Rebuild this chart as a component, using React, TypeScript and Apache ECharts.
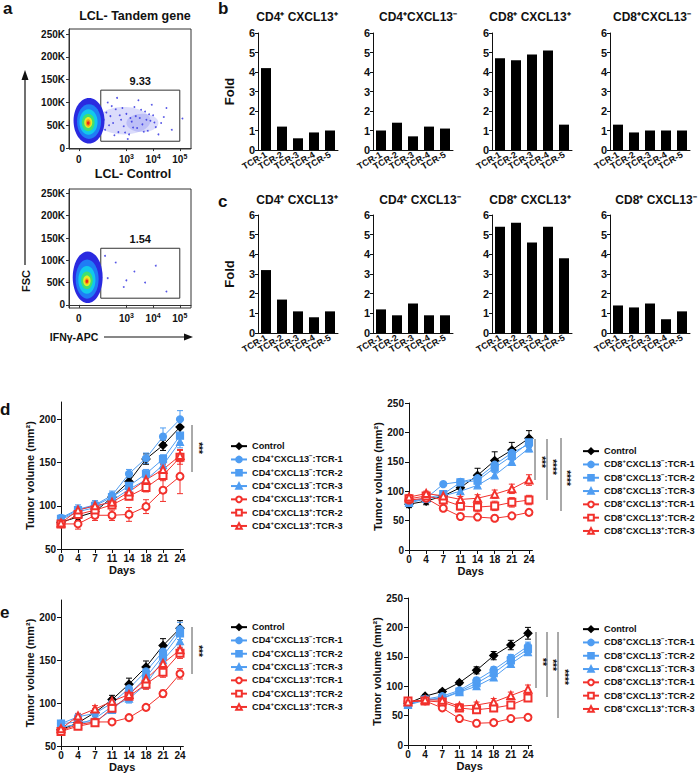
import React, { useEffect, useRef } from 'react';
import * as echarts from 'echarts';

const FONT = 'Arial, "Liberation Sans", Helvetica, sans-serif';

// ---------- panel a : flow cytometry ----------
const flowTitles = ['LCL- Tandem gene', 'LCL- Control'];
const flowYTicks = [0, 50, 100, 150, 200, 250];
const flowYTickLabels = ['0', '50K', '100K', '150K', '200K', '250K'];
const flowXTicks = [1.22, 3, 4, 5];
const flowXTickLabels = ['0', '10{s|3}', '10{s|4}', '10{s|5}'];
const gatePercent = ['9.33', '1.54'];
const gateX = [2.04, 5.0];
const gateY = [15, 127];
// [x(decade), FSC(K), x-radius, y-radius, density level]
const tandemCloud = [
  [2.9, 60, 1.0, 30, 0],
  [3.6, 55, 0.6, 20, 0],
  [1.6, 60, 0.58, 50, 1],
  [1.6, 58, 0.45, 38, 2],
  [1.58, 57, 0.34, 28, 3],
  [1.57, 56, 0.24, 19, 4],
  [1.57, 56, 0.15, 12, 5],
  [1.57, 55, 0.09, 8, 6],
  [1.57, 55, 0.05, 4, 7],
];
const controlCloud = [
  [1.55, 62, 0.56, 58, 1],
  [1.53, 58, 0.43, 44, 2],
  [1.52, 56, 0.32, 31, 3],
  [1.52, 55, 0.22, 20, 4],
  [1.52, 54, 0.14, 12, 5],
  [1.52, 53, 0.08, 7, 6],
  [1.52, 53, 0.045, 4, 7],
];
const tandemDots = [
  [2.2, 40], [2.4, 70], [2.5, 55], [2.6, 85], [2.7, 35], [2.8, 62], [2.9, 48], [3.0, 75],
  [3.1, 30], [3.2, 58], [3.3, 90], [3.4, 44], [3.5, 66], [3.6, 52], [3.7, 80], [3.8, 38],
  [3.9, 60], [4.0, 72], [4.1, 46], [4.3, 55], [4.5, 88], [4.7, 40], [5.1, 65], [2.3, 100],
  [2.65, 110], [3.05, 20], [3.45, 105], [4.2, 30], [4.4, 68], [3.95, 95],
  [2.15, 62], [2.25, 78], [2.35, 50], [2.45, 92], [2.55, 28], [2.75, 72], [2.85, 88], [2.95, 34],
  [3.15, 66], [3.25, 45], [3.35, 70], [3.55, 84], [3.65, 36], [3.75, 62], [3.85, 74], [4.05, 56],
];
const controlDots = [
  [2.3, 60], [2.6, 95], [2.9, 40], [3.3, 75], [3.7, 50], [4.1, 88], [4.5, 30], [2.2, 110], [3.0, 55],
];

// ---------- panels b, c : fold bars ----------
const tcrCats = ['TCR-1', 'TCR-2', 'TCR-3', 'TCR-4', 'TCR-5'];
const bTitles = ['CD4⁺ CXCL13⁺', 'CD4⁺CXCL13⁻', 'CD8⁺ CXCL13⁺', 'CD8⁺CXCL13⁻'];
const cTitles = ['CD4⁺ CXCL13⁺', 'CD4⁺ CXCL13⁻', 'CD8⁺ CXCL13⁺', 'CD8⁺ CXCL13⁻'];
const b_cd4pos = [4.2, 1.2, 0.6, 0.9, 1.0];
const b_cd4neg = [1.0, 1.4, 0.7, 1.2, 1.1];
const b_cd8pos = [4.7, 4.6, 4.9, 5.1, 1.3];
const b_cd8neg = [1.3, 0.9, 1.0, 1.0, 1.0];
const c_cd4pos = [3.2, 1.7, 1.1, 0.8, 1.1];
const c_cd4neg = [1.2, 0.9, 1.5, 0.9, 0.9];
const c_cd8pos = [5.4, 5.6, 4.6, 5.4, 3.8];
const c_cd8neg = [1.4, 1.3, 1.5, 0.7, 1.1];

// ---------- panels d, e : tumour growth ----------
const days = ['0', '4', '7', '11', '14', '18', '21', '24'];
const cd4Names = ['Control', 'CD4⁺CXCL13⁻:TCR-1', 'CD4⁺CXCL13⁻:TCR-2', 'CD4⁺CXCL13⁻:TCR-3', 'CD4⁺CXCL13⁺:TCR-1', 'CD4⁺CXCL13⁺:TCR-2', 'CD4⁺CXCL13⁺:TCR-3'];
const cd8Names = ['Control', 'CD8⁺CXCL13⁻:TCR-1', 'CD8⁺CXCL13⁻:TCR-2', 'CD8⁺CXCL13⁻:TCR-3', 'CD8⁺CXCL13⁺:TCR-1', 'CD8⁺CXCL13⁺:TCR-2', 'CD8⁺CXCL13⁺:TCR-3'];

// d, CD4
const d4_ctrl = [81, 87, 93, 110, 128, 154, 170, 191];
const d4_ctrl_e = [3, 4, 4, 4, 5, 6, 6, 8];
const d4_neg1 = [86, 96, 101, 112, 137, 155, 180, 200];
const d4_neg1_e = [3, 5, 5, 5, 5, 6, 10, 10];
const d4_neg2 = [85, 95, 100, 110, 123, 137, 154, 181];
const d4_neg2_e = [3, 4, 4, 4, 4, 5, 5, 8];
const d4_neg3 = [84, 93, 98, 106, 119, 130, 147, 174];
const d4_neg3_e = [3, 3, 4, 4, 4, 5, 5, 7];
const d4_pos1 = [79, 79, 89, 89, 90, 99, 118, 134];
const d4_pos1_e = [3, 6, 6, 6, 8, 8, 13, 20];
const d4_pos2 = [79, 90, 95, 101, 111, 121, 135, 156];
const d4_pos2_e = [3, 4, 4, 4, 4, 5, 6, 8];
const d4_pos3 = [80, 95, 100, 104, 116, 130, 142, 158];
const d4_pos3_e = [3, 4, 4, 4, 5, 5, 6, 7];
// d, CD8
const d8_ctrl = [78, 83, 92, 106, 127, 152, 170, 190];
const d8_ctrl_e = [6, 6, 8, 10, 12, 15, 13, 13];
const d8_neg1 = [83, 88, 112, 116, 122, 145, 165, 180];
const d8_neg1_e = [4, 5, 3, 4, 5, 6, 6, 6];
const d8_neg2 = [82, 88, 95, 115, 118, 140, 160, 183];
const d8_neg2_e = [4, 5, 6, 5, 6, 7, 7, 8];
const d8_neg3 = [80, 87, 92, 100, 110, 127, 150, 173];
const d8_neg3_e = [3, 4, 4, 4, 4, 5, 5, 6];
const d8_pos1 = [85, 88, 71, 57, 56, 54, 58, 64];
const d8_pos1_e = [3, 3, 3, 2, 2, 2, 2, 3];
const d8_pos2 = [87, 92, 85, 75, 73, 75, 81, 85];
const d8_pos2_e = [4, 5, 6, 7, 8, 8, 8, 8];
const d8_pos3 = [90, 96, 92, 86, 88, 95, 104, 119];
const d8_pos3_e = [4, 4, 5, 5, 6, 7, 8, 9];
// e, CD4
const e4_ctrl = [69, 77, 89, 104, 122, 142, 167, 187];
const e4_ctrl_e = [3, 3, 4, 5, 7, 7, 8, 9];
const e4_neg1 = [76, 84, 88, 100, 117, 137, 160, 186];
const e4_neg1_e = [3, 3, 4, 4, 5, 6, 7, 8];
const e4_neg2 = [76, 78, 78, 92, 110, 130, 155, 181];
const e4_neg2_e = [3, 3, 3, 4, 5, 6, 6, 7];
const e4_neg3 = [72, 75, 82, 96, 105, 122, 150, 172];
const e4_neg3_e = [3, 3, 3, 4, 5, 5, 6, 7];
const e4_pos1 = [68, 75, 78, 78, 83, 95, 111, 134];
const e4_pos1_e = [2, 2, 2, 2, 2, 3, 4, 6];
const e4_pos2 = [67, 73, 77, 94, 108, 122, 136, 158];
const e4_pos2_e = [2, 3, 3, 4, 5, 6, 6, 6];
const e4_pos3 = [70, 85, 93, 102, 110, 128, 146, 162];
const e4_pos3_e = [3, 3, 4, 4, 5, 5, 6, 6];
// e, CD8
const e8_ctrl = [71, 83, 91, 106, 127, 152, 170, 190];
const e8_ctrl_e = [4, 3, 3, 3, 6, 7, 8, 10];
const e8_neg1 = [70, 78, 83, 93, 110, 128, 148, 168];
const e8_neg1_e = [3, 3, 3, 3, 5, 5, 6, 7];
const e8_neg2 = [70, 77, 80, 91, 105, 122, 144, 163];
const e8_neg2_e = [3, 3, 3, 3, 4, 5, 6, 6];
const e8_neg3 = [68, 76, 79, 90, 100, 115, 138, 158];
const e8_neg3_e = [3, 3, 3, 3, 4, 5, 5, 5];
const e8_pos1 = [74, 75, 63, 45, 37, 38, 45, 47];
const e8_pos1_e = [2, 2, 2, 2, 2, 2, 2, 2];
const e8_pos2 = [75, 75, 73, 63, 60, 63, 68, 80];
const e8_pos2_e = [3, 3, 4, 4, 5, 6, 6, 6];
const e8_pos3 = [73, 77, 76, 66, 68, 73, 84, 95];
const e8_pos3_e = [3, 3, 4, 4, 5, 6, 6, 7];

const BLUE = '#4f9df2';
const RED = '#f2312c';
const groupColors = ['#000000', BLUE, BLUE, BLUE, RED, RED, RED];
const groupSymbols = ['diamond', 'circle', 'rect', 'triangle', 'emptyCircle', 'emptyRect', 'emptyTriangle'];
const groupSizes = [8, 7, 7, 7, 7, 7, 7];
const cloudColors = ['rgba(40,50,230,0.17)', '#2a2ae0', '#1f7df5', '#12c8ec', '#3fe070', '#e6ec28', '#f59a18', '#e6281e'];

const supRich = (name: string) => name.replace(/⁺/g, '{s|+}').replace(/⁻/g, '{s|−}');

export default function App() {
  const ref = useRef<HTMLDivElement>(null);
  useEffect(() => {
    const chart = echarts.init(ref.current!, null, { renderer: 'svg' });
    const grids: any[] = [];
    const xAxes: any[] = [];
    const yAxes: any[] = [];
    const series: any[] = [];
    const legends: any[] = [];
    const graphics: any[] = [];
    const axisCol = '#111';
    const lbl = (size: number) => ({ fontSize: size, fontWeight: 'bold', color: '#111', fontFamily: FONT });
    const supStyle = (size: number) => ({ fontSize: size, fontWeight: 'bold', color: '#111', fontFamily: FONT, verticalAlign: 'top', lineHeight: size + 1 });

    // ----- flow plots -----
    const flowGrids = [
      { left: 69, top: 29, width: 122, height: 120, ymin: -2, ymax: 261 },
      { left: 69, top: 189, width: 122, height: 119, ymin: -7, ymax: 260 },
    ];
    const clouds = [tandemCloud, controlCloud];
    const dots = [tandemDots, controlDots];
    flowGrids.forEach((g, i) => {
      const gi = grids.length;
      grids.push({ left: g.left, top: g.top, width: g.width, height: g.height, show: true, borderColor: '#333', borderWidth: 1, backgroundColor: 'transparent' });
      xAxes.push({
        gridIndex: gi, type: 'value', min: 0.85, max: 5.42,
        axisLine: { show: true, lineStyle: { color: '#333' } },
        axisTick: { show: true, length: 3, customValues: flowXTicks, lineStyle: { color: '#333' } },
        axisLabel: {
          ...lbl(10), margin: 4, customValues: flowXTicks, lineHeight: 12,
          rich: { s: supStyle(7) },
          formatter: (v: number) => {
            let k = 0; flowXTicks.forEach((t, j) => { if (Math.abs(t - v) < Math.abs(flowXTicks[k] - v)) k = j; });
            return flowXTickLabels[k];
          },
        },
        splitLine: { show: false },
      });
      yAxes.push({
        gridIndex: gi, type: 'value', min: g.ymin, max: g.ymax,
        axisLine: { show: true, lineStyle: { color: '#333' } },
        axisTick: { show: true, length: 3, customValues: flowYTicks, lineStyle: { color: '#333' } },
        axisLabel: {
          ...lbl(10), margin: 4, customValues: flowYTicks,
          formatter: (v: number) => flowYTickLabels[flowYTicks.indexOf(Math.round(v))] ?? '',
        },
        splitLine: { show: false },
      });
      series.push({
        type: 'custom', xAxisIndex: gi, yAxisIndex: gi, silent: true, clip: true,
        data: clouds[i],
        renderItem: (_p: any, api: any) => {
          const c = api.coord([api.value(0), api.value(1)]);
          const s = api.size([api.value(2), api.value(3)]);
          return { type: 'ellipse', shape: { cx: c[0], cy: c[1], rx: s[0], ry: s[1] }, style: { fill: cloudColors[api.value(4)] } };
        },
      });
      series.push({
        type: 'scatter', xAxisIndex: gi, yAxisIndex: gi, silent: true,
        data: dots[i], symbolSize: 1.8, itemStyle: { color: '#2a2ae0' },
        markArea: {
          silent: true,
          itemStyle: { color: 'rgba(0,0,0,0)', borderColor: '#333', borderWidth: 1 },
          label: { show: true, position: 'top', distance: 3, formatter: gatePercent[i], ...lbl(11) },
          data: [[{ coord: [gateX[0], gateY[1]] }, { coord: [gateX[1], gateY[0]] }]],
        },
      });
    });
    graphics.push({ type: 'text', x: 135, y: 16, style: { text: flowTitles[0], ...lbl(12.5), fill: '#111', align: 'center', verticalAlign: 'middle' } });
    graphics.push({ type: 'text', x: 133, y: 174, style: { text: flowTitles[1], ...lbl(12.5), fill: '#111', align: 'center', verticalAlign: 'middle' } });
    // FSC arrow
    graphics.push({ type: 'line', shape: { x1: 25, y1: 265, x2: 25, y2: 78 }, style: { stroke: '#111', lineWidth: 1.2 } });
    graphics.push({ type: 'polygon', shape: { points: [[25, 70], [21.5, 80], [28.5, 80]] }, style: { fill: '#111' } });
    graphics.push({ type: 'text', x: 26, y: 281, rotation: Math.PI / 2, style: { text: 'FSC', ...lbl(11), fill: '#111', align: 'center', verticalAlign: 'middle' } });
    // IFNg arrow
    graphics.push({ type: 'text', x: 74, y: 337, style: { text: 'IFNγ-APC', ...lbl(10.5), fill: '#111', align: 'center', verticalAlign: 'middle' } });
    graphics.push({ type: 'line', shape: { x1: 104, y1: 337, x2: 186, y2: 337 }, style: { stroke: '#111', lineWidth: 1.2 } });
    graphics.push({ type: 'polygon', shape: { points: [[193, 337], [184, 333.5], [184, 340.5]] }, style: { fill: '#111' } });

    // ----- bar panels -----
    const barLefts = [258, 373, 492, 610];
    const titleXB = [297, 418, 530, 652];
    const titleXC = [297, 420, 530, 656];
    const rows = [
      { top: 33, height: 117, titleY: 17, titles: bTitles, titleX: titleXB, data: [b_cd4pos, b_cd4neg, b_cd8pos, b_cd8neg] },
      { top: 215, height: 118, titleY: 200, titles: cTitles, titleX: titleXC, data: [c_cd4pos, c_cd4neg, c_cd8pos, c_cd8neg] },
    ];
    rows.forEach((r) => {
      r.data.forEach((vals, p) => {
        const gi = grids.length;
        grids.push({ left: barLefts[p], top: r.top, width: 80, height: r.height });
        xAxes.push({
          gridIndex: gi, type: 'category', data: tcrCats,
          axisLine: { show: true, lineStyle: { color: axisCol } },
          axisTick: { show: false },
          axisLabel: { ...lbl(9), rotate: 30, interval: 0, margin: 4 },
        });
        yAxes.push({
          gridIndex: gi, type: 'value', min: 0, max: 6, interval: 1,
          axisLine: { show: true, lineStyle: { color: axisCol } },
          axisTick: { show: true, length: 3, lineStyle: { color: axisCol } },
          axisLabel: { ...lbl(11), margin: 3 },
          splitLine: { show: false },
          name: p === 0 ? 'Fold' : '', nameLocation: 'middle', nameGap: 22,
          nameTextStyle: { ...lbl(13) },
        });
        series.push({ type: 'bar', xAxisIndex: gi, yAxisIndex: gi, data: vals, barWidth: 10, itemStyle: { color: '#000' }, silent: true });
        graphics.push({ type: 'text', x: r.titleX[p], y: r.titleY, style: { text: r.titles[p], ...lbl(12), fill: '#111', align: 'center', verticalAlign: 'middle' } });
      });
    });

    // ----- line panels -----
    const linePanels = [
      { grid: { left: 61, top: 402, width: 122.4, height: 147 }, ymin: 50, ymax: 220, ticks: [50, 100, 150, 200], names: cd4Names,
        means: [d4_ctrl, d4_neg1, d4_neg2, d4_neg3, d4_pos1, d4_pos2, d4_pos3], sems: [d4_ctrl_e, d4_neg1_e, d4_neg2_e, d4_neg3_e, d4_pos1_e, d4_pos2_e, d4_pos3_e], legend: { left: 230, top: 440 } },
      { grid: { left: 409, top: 403, width: 123.4, height: 147 }, ymin: 0, ymax: 250, ticks: [0, 50, 100, 150, 200, 250], names: cd8Names,
        means: [d8_ctrl, d8_neg1, d8_neg2, d8_neg3, d8_pos1, d8_pos2, d8_pos3], sems: [d8_ctrl_e, d8_neg1_e, d8_neg2_e, d8_neg3_e, d8_pos1_e, d8_pos2_e, d8_pos3_e], legend: { left: 582, top: 445 } },
      { grid: { left: 61, top: 600, width: 122.4, height: 146 }, ymin: 50, ymax: 220, ticks: [50, 100, 150, 200], names: cd4Names,
        means: [e4_ctrl, e4_neg1, e4_neg2, e4_neg3, e4_pos1, e4_pos2, e4_pos3], sems: [e4_ctrl_e, e4_neg1_e, e4_neg2_e, e4_neg3_e, e4_pos1_e, e4_pos2_e, e4_pos3_e], legend: { left: 230, top: 621 } },
      { grid: { left: 408, top: 598, width: 123.4, height: 147 }, ymin: 0, ymax: 250, ticks: [0, 50, 100, 150, 200, 250], names: cd8Names,
        means: [e8_ctrl, e8_neg1, e8_neg2, e8_neg3, e8_pos1, e8_pos2, e8_pos3], sems: [e8_ctrl_e, e8_neg1_e, e8_neg2_e, e8_neg3_e, e8_pos1_e, e8_pos2_e, e8_pos3_e], legend: { left: 582, top: 623 } },
    ];
    const dayIdx = days.map((_, i) => i);
    linePanels.forEach((lp) => {
      const gi = grids.length;
      grids.push(lp.grid);
      xAxes.push({
        gridIndex: gi, type: 'value', min: 0, max: 7.2,
        axisLine: { show: true, lineStyle: { color: axisCol } },
        axisTick: { show: true, length: 4, customValues: dayIdx, lineStyle: { color: axisCol } },
        axisLabel: { ...lbl(10), margin: 4, customValues: dayIdx, formatter: (v: number) => days[Math.round(v)] ?? '' },
        splitLine: { show: false },
        name: 'Days', nameLocation: 'middle', nameGap: 15, nameTextStyle: { ...lbl(11) },
      });
      yAxes.push({
        gridIndex: gi, type: 'value', min: lp.ymin, max: lp.ymax,
        axisLine: { show: true, lineStyle: { color: axisCol } },
        axisTick: { show: true, length: 4, customValues: lp.ticks, lineStyle: { color: axisCol } },
        axisLabel: { ...lbl(10), margin: 5, customValues: lp.ticks },
        splitLine: { show: false },
        name: 'Tumor volume (mm²)', nameLocation: 'middle', nameGap: 22, nameTextStyle: { ...lbl(11) },
      });
      lp.means.forEach((m, k) => {
        const col = groupColors[k];
        const sem = lp.sems[k];
        series.push({
          type: 'custom', xAxisIndex: gi, yAxisIndex: gi, silent: true, z: 1,
          data: m.map((v, i) => [i, v, sem[i]]),
          renderItem: (_p: any, api: any) => {
            const x = api.value(0), v = api.value(1), e = api.value(2);
            const t = api.coord([x, v + e]);
            const b = api.coord([x, v - e]);
            const w = 3;
            const st = { stroke: col, lineWidth: 1 };
            return {
              type: 'group', children: [
                { type: 'line', shape: { x1: t[0], y1: t[1], x2: b[0], y2: b[1] }, style: st },
                { type: 'line', shape: { x1: t[0] - w, y1: t[1], x2: t[0] + w, y2: t[1] }, style: st },
                { type: 'line', shape: { x1: b[0] - w, y1: b[1], x2: b[0] + w, y2: b[1] }, style: st },
              ],
            };
          },
        });
        series.push({
          type: 'line', name: lp.names[k], xAxisIndex: gi, yAxisIndex: gi, z: 3,
          data: m.map((v, i) => [i, v]),
          symbol: groupSymbols[k], symbolSize: groupSizes[k], showSymbol: true,
          lineStyle: { color: col, width: 1 },
          itemStyle: { color: col, borderColor: col, borderWidth: 1.2 },
        });
      });
      legends.push({
        left: lp.legend.left, top: lp.legend.top, orient: 'vertical', padding: 0,
        itemWidth: 16, itemHeight: 7, itemGap: 1, selectedMode: false,
        data: lp.names,
        formatter: supRich,
        textStyle: {
          ...lbl(9.2), lineHeight: 12.3,
          rich: { s: supStyle(6) },
        },
      });
    });

    // significance markers
    const sigLines = [
      [192, 425, 472], [535, 439, 480], [547, 439, 500], [561, 438, 511],
      [192, 627, 674], [536, 632, 688], [547, 632, 697], [558, 632, 718],
    ];
    sigLines.forEach(([x, y1, y2]) => graphics.push({ type: 'line', shape: { x1: x, y1, x2: x, y2 }, style: { stroke: '#555', lineWidth: 1 } }));
    const stars: [string, number, number][] = [
      ['***', 198, 448], ['***', 541, 462], ['****', 552, 467], ['****', 566, 478],
      ['***', 198, 651], ['**', 542, 662], ['***', 552, 665], ['****', 564, 677],
    ];
    stars.forEach(([t, x, y]) => graphics.push({ type: 'text', x, y, rotation: -Math.PI / 2, style: { text: t, ...lbl(10), fill: '#111', align: 'center', verticalAlign: 'middle' } }));

    // panel letters
    const letters: [string, number, number][] = [['a', 3, 0], ['b', 218, 0], ['c', 218, 193], ['d', 0, 401], ['e', 0, 604]];
    letters.forEach(([t, x, y]) => graphics.push({ type: 'text', x, y, style: { text: t, fontSize: 17, fontWeight: 'bold', fontFamily: FONT, fill: '#111', align: 'left', verticalAlign: 'top' } }));

    chart.setOption({
      animation: false,
      backgroundColor: '#fff',
      textStyle: { fontFamily: FONT },
      grid: grids,
      xAxis: xAxes,
      yAxis: yAxes,
      legend: legends,
      series,
      graphic: graphics,
    });
    return () => chart.dispose();
  }, []);
  return <div ref={ref} style={{ position: 'fixed', left: 0, top: 0, width: 698, height: 773, background: '#fff' }} />;
}
